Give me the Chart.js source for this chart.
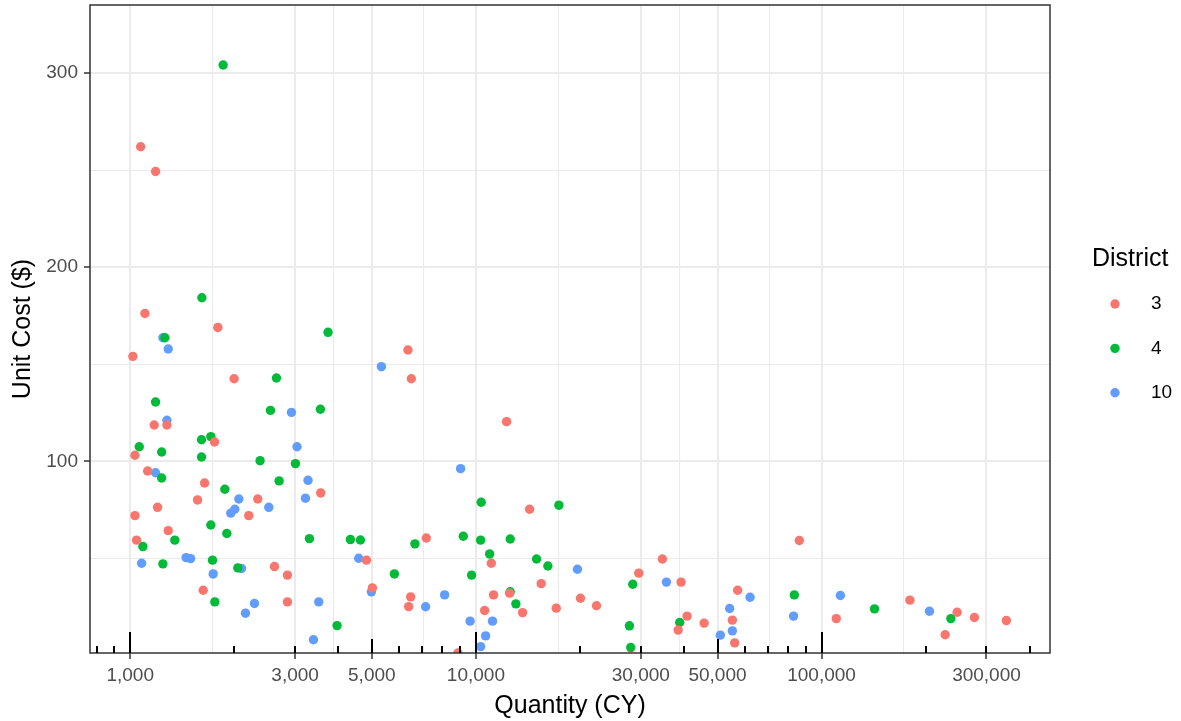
<!DOCTYPE html>
<html>
<head>
<meta charset="utf-8">
<script src="https://cdn.jsdelivr.net/npm/chart.js@4.4.1/dist/chart.umd.min.js"></script>
<style>
body { margin: 0; background: #FFFFFF; }
canvas { display: block; }
</style>
</head>
<body>
<canvas id="cost-chart" width="1181" height="721"></canvas>
<script>
var districts = ['3', '4', '10']
var districtColors = ['#F8766D', '#00BA38', '#619CFF']

// District 3
var qty_d3 = [1072, 1184, 1103, 1793, 1018, 1998, 1173, 1277, 1754, 1032,
    1123, 1641, 3557, 1566, 2339, 2203, 1032, 1200, 1288, 1043,
    7188, 2614, 2850, 4823, 1626, 2850, 5019, 6476, 6390, 10600,
    8872, 6361, 6506, 12270, 14300, 11080, 15450, 11250, 12520, 13650,
    17080, 20070, 22330, 34640, 29590, 39230, 40830, 38460, 45730, 57180,
    55200, 56060, 86220, 110300, 180100, 246700, 227800, 276800, 342500]
var cost_d3 = [262, 249.3, 176.2, 169.0, 154.1, 142.6, 118.8, 118.8, 110.0, 103.2,
    95.1, 88.9, 83.8, 80.2, 80.7, 72.1, 72.1, 76.4, 64.4, 59.5,
    60.6, 45.9, 41.5, 49.2, 33.7, 27.7, 34.9, 30.3, 25.3, 23.3,
    1.4, 157.4, 142.6, 120.5, 75.4, 47.6, 37.1, 31.3, 32.2, 22.2,
    24.5, 29.6, 25.7, 49.8, 42.5, 37.9, 20.4, 13.2, 16.8, 33.7,
    18.3, 6.6, 59.3, 19.1, 28.6, 22.4, 10.8, 19.7, 18.1]

// District 4
var qty_d4 = [1857, 1612, 3735, 1260, 2649, 1184, 2545, 3550, 1608, 1711,
    1062, 1233, 1608, 2375, 3006, 1233, 2696, 1878, 1711, 1903,
    1088, 1346, 3300, 4335, 4634, 6664, 9195, 10320, 10360, 10960,
    1243, 1730, 2048, 5810, 9718, 1757, 3966, 17380, 12570, 14980,
    16150, 12570, 13050, 28430, 27810, 28050, 38870, 83410, 142300, 236600]
var cost_d4 = [304.1, 184.3, 166.5, 163.7, 143.0, 130.6, 126.3, 126.9, 111.2, 112.8,
    107.6, 104.9, 102.3, 100.4, 98.9, 91.5, 90.0, 85.7, 67.3, 62.9,
    56.2, 59.5, 60.3, 59.8, 59.6, 57.6, 61.5, 59.5, 79.0, 52.4,
    47.3, 49.2, 45.2, 42.1, 41.5, 27.7, 15.5, 77.5, 60.1, 49.8,
    46.2, 32.9, 26.7, 36.8, 15.4, 4.2, 17.1, 31.3, 24.1, 19.1]

// District 10
var qty_d10 = [1243, 1288, 5330, 2927, 1277, 3038, 1184, 3269, 2062, 3213,
    2517, 1954, 2007, 1079, 1451, 1495, 1738, 2099, 4581, 2288,
    2155, 3511, 4985, 7155, 8121, 9621, 3389, 10670, 10320, 9032,
    19670, 11170, 35580, 62110, 54220, 55200, 50960, 82990, 113400, 205200]
var cost_d10 = [163.7, 157.9, 148.8, 125.3, 121.2, 107.6, 94.2, 90.3, 80.7, 81.1,
    76.4, 73.4, 75.4, 47.6, 50.5, 50.0, 42.1, 44.9, 50.2, 26.9,
    21.9, 27.7, 32.9, 25.2, 31.3, 17.8, 8.2, 10.2, 4.7, 96.3,
    44.5, 17.8, 37.9, 30.1, 24.3, 12.8, 10.6, 20.4, 31.0, 22.9]

var xMajorTicks = [1000, 3000, 5000, 10000, 30000, 50000, 100000, 300000]
var yMajorTicks = [100, 200, 300]
var yGridTicks = [50, 100, 150, 200, 250, 300]

var FONT = "'Liberation Sans', Arial, sans-serif"

function toPoints(xs, ys) {
    var pts = []
    for (var i = 0; i < xs.length; i++) {
        pts.push({ x: xs[i], y: ys[i] })
    }
    return pts
}

// minor breaks sit halfway between the major ones on the log scale
function xGridValues() {
    var vals = []
    for (var i = 0; i < xMajorTicks.length; i++) {
        vals.push(xMajorTicks[i])
        if (i < xMajorTicks.length - 1) {
            vals.push(Math.sqrt(xMajorTicks[i] * xMajorTicks[i + 1]))
        }
    }
    return vals
}

function isMajorX(v) {
    return xMajorTicks.some(function (m) { return Math.abs(m - v) < 1e-6 })
}
function isMajorY(v) {
    return yMajorTicks.indexOf(v) !== -1
}

// panel border, log ticks along the bottom and the District legend
var panelExtras = {
    id: 'panelExtras',
    afterDraw: function (chart) {
        var ctx = chart.ctx
        var area = chart.chartArea
        var xs = chart.scales.x

        ctx.save()
        ctx.strokeStyle = '#333333'
        ctx.lineWidth = 1.5
        ctx.strokeRect(area.left, area.top, area.right - area.left, area.bottom - area.top)

        ctx.strokeStyle = '#000000'
        ctx.lineWidth = 2
        for (var e = 2; e <= 5; e++) {
            for (var k = 1; k <= 9; k++) {
                var v = k * Math.pow(10, e)
                if (v < xs.min || v > xs.max) continue
                var len = k === 1 ? 21 : (k === 5 ? 14 : 7)
                var px = Math.round(xs.getPixelForValue(v))
                ctx.beginPath()
                ctx.moveTo(px, area.bottom)
                ctx.lineTo(px, area.bottom - len)
                ctx.stroke()
            }
        }

        ctx.fillStyle = '#000000'
        ctx.textBaseline = 'middle'
        ctx.textAlign = 'left'
        ctx.font = '25px ' + FONT
        ctx.fillText('District', 1092, 259)
        ctx.font = '19px ' + FONT
        chart.data.datasets.forEach(function (ds, i) {
            var cy = 304 + i * 44.4
            ctx.beginPath()
            ctx.fillStyle = ds.backgroundColor
            ctx.arc(1115, cy, 4.7, 0, Math.PI * 2)
            ctx.fill()
            ctx.fillStyle = '#000000'
            ctx.fillText(ds.label, 1151, cy)
        })
        ctx.restore()
    }
}

var costChart
function setupChart() {
    Chart.defaults.font.family = FONT
    var ctx = document.getElementById('cost-chart').getContext('2d')
    var sets = [toPoints(qty_d3, cost_d3), toPoints(qty_d4, cost_d4), toPoints(qty_d10, cost_d10)]

    costChart = new Chart(ctx, {
        type: 'scatter',
        plugins: [panelExtras],
        data: {
            datasets: districts.map(function (d, i) {
                return {
                    label: d,
                    data: sets[i],
                    backgroundColor: districtColors[i],
                    borderWidth: 0,
                    pointRadius: 4.7,
                    pointHoverRadius: 4.7,
                    clip: 0
                }
            })
        },
        options: {
            responsive: false,
            devicePixelRatio: 1,
            animation: false,
            layout: { padding: { top: 5, right: 131, left: 0, bottom: 0 } },
            plugins: {
                legend: { display: false },
                tooltip: { enabled: false }
            },
            scales: {
                x: {
                    type: 'logarithmic',
                    min: 765,
                    max: 458000,
                    bounds: 'data',
                    afterBuildTicks: function (scale) {
                        scale.ticks = xGridValues().map(function (v) { return { value: v } })
                    },
                    afterFit: function (scale) {
                        scale.height = 68
                        scale.paddingLeft = 0
                        scale.paddingRight = 0
                    },
                    border: { display: false },
                    grid: {
                        color: '#EBEBEB',
                        lineWidth: function (c) { return isMajorX(c.tick.value) ? 2 : 1.1 },
                        tickColor: function (c) { return isMajorX(c.tick.value) ? '#333333' : 'rgba(0,0,0,0)' },
                        tickWidth: 1.5,
                        tickLength: 6
                    },
                    ticks: {
                        autoSkip: false,
                        maxRotation: 0,
                        padding: 5,
                        color: '#4D4D4D',
                        font: { size: 19 },
                        callback: function (value) {
                            return isMajorX(value) ? Math.round(value).toLocaleString('en-US') : ''
                        }
                    },
                    title: {
                        display: true,
                        text: 'Quantity (CY)',
                        color: '#000000',
                        font: { size: 25 },
                        padding: { top: 0, bottom: 0 }
                    }
                },
                y: {
                    type: 'linear',
                    min: 1.4,
                    max: 335,
                    afterBuildTicks: function (scale) {
                        scale.ticks = yGridTicks.map(function (v) { return { value: v } })
                    },
                    afterFit: function (scale) {
                        scale.width = 90
                        scale.paddingTop = 0
                        scale.paddingBottom = 0
                    },
                    border: { display: false },
                    grid: {
                        color: '#EBEBEB',
                        lineWidth: function (c) { return isMajorY(c.tick.value) ? 2 : 1.1 },
                        tickColor: function (c) { return isMajorY(c.tick.value) ? '#333333' : 'rgba(0,0,0,0)' },
                        tickWidth: 1.5,
                        tickLength: 6
                    },
                    ticks: {
                        autoSkip: false,
                        padding: 6,
                        color: '#4D4D4D',
                        font: { size: 19 },
                        callback: function (value) {
                            return isMajorY(value) ? String(value) : ''
                        }
                    },
                    title: {
                        display: true,
                        text: 'Unit Cost ($)',
                        color: '#000000',
                        font: { size: 25 },
                        padding: { top: 8, bottom: 0 }
                    }
                }
            }
        }
    })
}

setupChart()
</script>
</body>
</html>
